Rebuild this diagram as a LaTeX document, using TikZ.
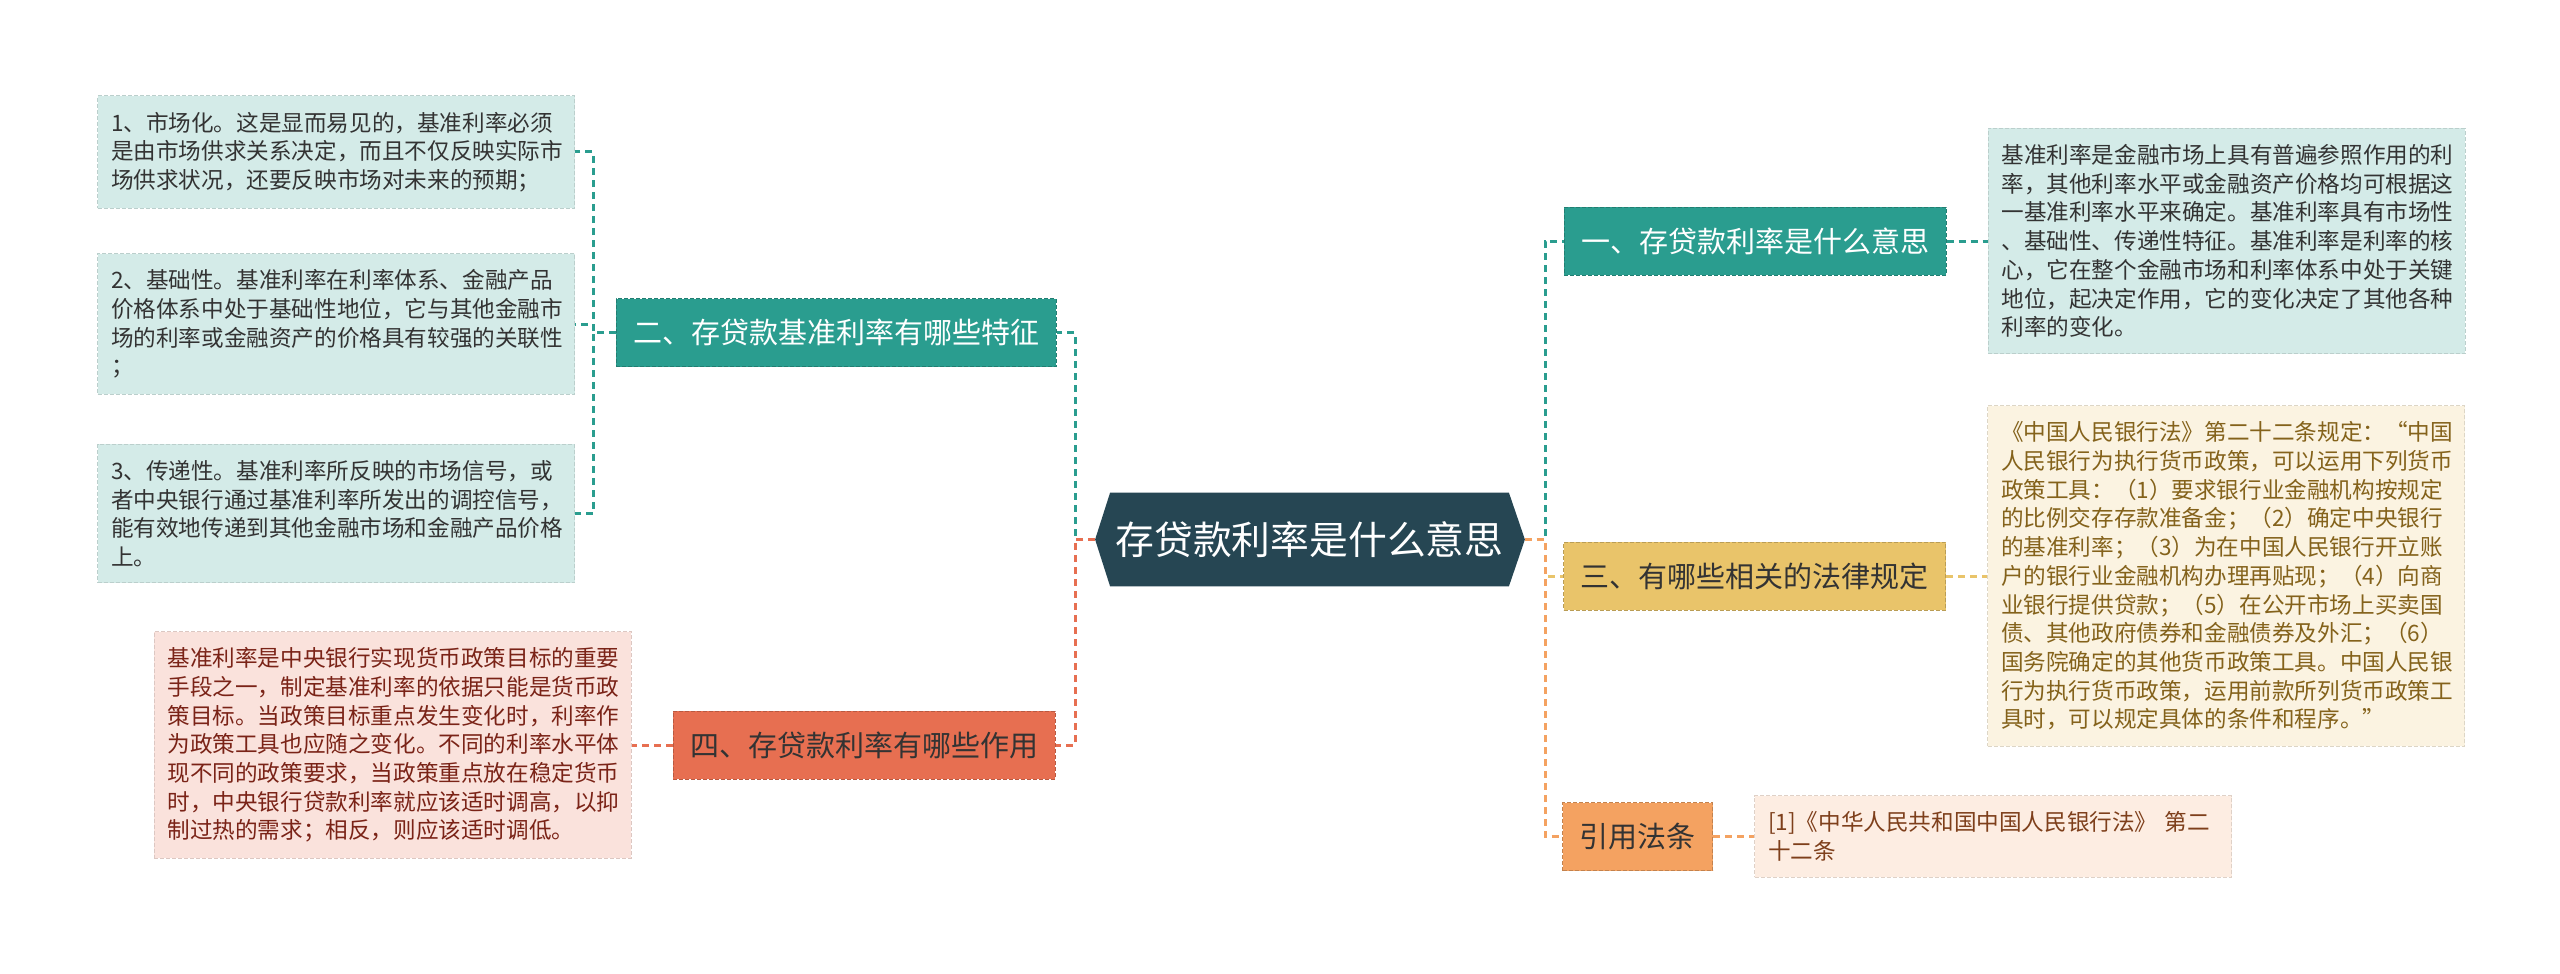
\documentclass[tikz,border=0pt]{standalone}
\usepackage{fontspec}
\setmainfont{Noto Sans CJK SC}
\usetikzlibrary{positioning,calc,backgrounds}
\definecolor{Hub}{HTML}{264653}
\definecolor{Teal}{HTML}{2A9D8F}
\definecolor{Gold}{HTML}{E9C46A}
\definecolor{Coral}{HTML}{E76F51}
\definecolor{Orange}{HTML}{F4A261}
\definecolor{LeafTeal}{HTML}{D4EBE8}
\definecolor{LeafGold}{HTML}{FBF3E1}
\definecolor{LeafCoral}{HTML}{FAE2DC}
\definecolor{LeafOrange}{HTML}{FDEDE2}
\definecolor{Ink}{HTML}{333333}
\definecolor{InkGold}{HTML}{84621B}
\definecolor{InkCoral}{HTML}{7A2317}
\definecolor{InkOrange}{HTML}{7E3F1B}
\tikzset{
  hub/.style={minimum width=199pt,minimum height=46.5pt,inner sep=0pt,text=white,font=\fontsize{19.4}{22}\selectfont},
  topic/.style={fill=#1,draw=#1!80!black,dash pattern=on 2pt off 1pt,line width=.5pt,minimum height=34pt,inner xsep=8.5pt,inner ysep=0pt,font=\fontsize{14.5}{17}\selectfont},
  leaf/.style={fill=#1,draw=#1!88!black,dash pattern=on 2pt off 1pt,line width=.5pt,text width=225pt,align=left,inner xsep=6.75pt,inner ysep=8pt,font=\fontsize{11.3}{14.35}\selectfont},
  link/.style={draw=#1,line width=1.5pt,dash pattern=on 3.5pt off 2.5pt}
}
\begin{document}
\begin{tikzpicture}[x=0.5pt,y=-0.5pt,node distance=20.5pt]
  \useasboundingbox (0,0) rectangle (2560,974);
  % centre
  \node[hub] (hub) at (1309.5,539.5) {存贷款利率是什么意思};
  \coordinate (hubR) at ($(hub.east)+(16,0)$);
  \coordinate (hubL) at ($(hub.west)+(-15,0)$);
  \begin{scope}[on background layer]
    \fill[white] (0,0) rectangle (2560,974);
    \fill[Hub] (hub.north west) -- (hub.north east) -- (hubR) -- (hub.south east) -- (hub.south west) -- (hubL) -- cycle;
  \end{scope}
  % topics
  \node[topic=Teal,text=white] (b1) at (1755,241) {一、存贷款利率是什么意思};
  \node[topic=Teal,text=white] (b2) at (836,332.5) {二、存贷款基准利率有哪些特征};
  \node[topic=Gold,text=Ink] (b3) at (1754.5,576) {三、有哪些相关的法律规定};
  \node[topic=Coral,text=Ink] (b4) at (864,745) {四、存贷款利率有哪些作用};
  \node[topic=Orange,text=Ink] (b5) at (1637.5,836.5) {引用法条};
  % leaves
  \node[leaf=LeafTeal,text=Ink,right=of b1] (r1) {基准利率是金融市场上具有普遍参照作用的利\\率，其他利率水平或金融资产价格均可根据这\\一基准利率水平来确定。基准利率具有市场性\\、基础性、传递性特征。基准利率是利率的核\\心，它在整个金融市场和利率体系中处于关键\\地位，起决定作用，它的变化决定了其他各种\\利率的变化。};
  \node[leaf=LeafGold,text=InkGold,right=of b3] (r2) {《中国人民银行法》第二十二条规定：“中国\\人民银行为执行货币政策，可以运用下列货币\\政策工具：（1）要求银行业金融机构按规定\\的比例交存存款准备金；（2）确定中央银行\\的基准利率；（3）为在中国人民银行开立账\\户的银行业金融机构办理再贴现；（4）向商\\业银行提供贷款；（5）在公开市场上买卖国\\债、其他政府债券和金融债券及外汇；（6）\\国务院确定的其他货币政策工具。中国人民银\\行为执行货币政策，运用前款所列货币政策工\\具时，可以规定具体的条件和程序。”};
  \node[leaf=LeafOrange,text=InkOrange,right=of b5] (r3) {[1]《中华人民共和国中国人民银行法》 第二\\十二条};
  \node[leaf=LeafTeal,text=Ink] (l1) at (336,152) {1、市场化。这是显而易见的，基准利率必须\\是由市场供求关系决定，而且不仅反映实际市\\场供求状况，还要反映市场对未来的预期；};
  \node[leaf=LeafTeal,text=Ink] (l2) at (336,324) {2、基础性。基准利率在利率体系、金融产品\\价格体系中处于基础性地位，它与其他金融市\\场的利率或金融资产的价格具有较强的关联性\\；};
  \node[leaf=LeafTeal,text=Ink] (l3) at (336,513.5) {3、传递性。基准利率所反映的市场信号，或\\者中央银行通过基准利率所发出的调控信号，\\能有效地传递到其他金融市场和金融产品价格\\上。};
  \node[leaf=LeafCoral,text=InkCoral,left=of b4] (l4) {基准利率是中央银行实现货币政策目标的重要\\手段之一，制定基准利率的依据只能是货币政\\策目标。当政策目标重点发生变化时，利率作\\为政策工具也应随之变化。不同的利率水平体\\现不同的政策要求，当政策重点放在稳定货币\\时，中央银行贷款利率就应该适时调高，以抑\\制过热的需求；相反，则应该适时调低。};
  % connectors
  \coordinate (rj) at (1545,539.5);
  \coordinate (lj) at (1075,539.5);
  \coordinate (lt) at (593,332.5);
  \draw[link=Teal] (hubR) -- (rj) |- (b1.west);
  \draw[link=Gold] (hubR) -- (rj) |- (b3.west);
  \draw[link=Orange] (hubR) -- (rj) |- (b5.west);
  \draw[link=Teal] (hubL) -- (lj) |- (b2.east);
  \draw[link=Coral] (hubL) -- (lj) |- (b4.east);
  \draw[link=Teal] (b1) -- (r1);
  \draw[link=Gold] (b3) -- (r2);
  \draw[link=Orange] (b5) -- (r3);
  \draw[link=Coral] (b4) -- (l4);
  \draw[link=Teal] (b2.west) -- (lt) |- (l1.east);
  \draw[link=Teal] (b2.west) -- (lt) |- (l2.east);
  \draw[link=Teal] (b2.west) -- (lt) |- (l3.east);
\end{tikzpicture}
\end{document}
